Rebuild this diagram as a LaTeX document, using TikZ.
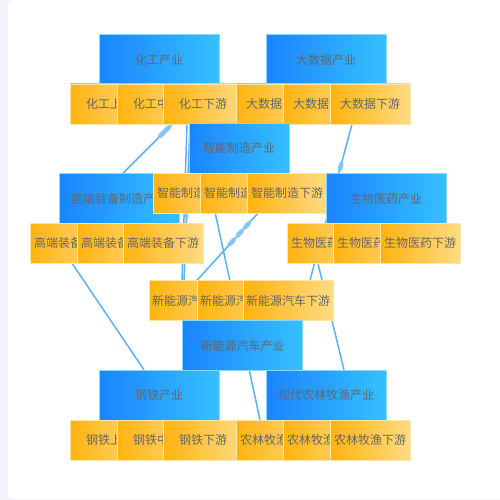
\documentclass[tikz,border=0pt]{standalone}
\usepackage{fontspec}
\newfontfamily\cjk{Noto Sans CJK SC}
\usetikzlibrary{shapes.geometric}
\definecolor{bluel}{HTML}{1A84FF}
\definecolor{bluer}{HTML}{36C0FF}
\definecolor{orgl}{HTML}{FFB30F}
\definecolor{orgr}{HTML}{FFDB82}
\definecolor{textgray}{HTML}{666666}
\definecolor{edgeblue}{HTML}{5AB4EC}
\definecolor{panelgray}{HTML}{F2F3F8}
\pgfdeclarelayer{panel}
\pgfdeclarelayer{edges}
\pgfsetlayers{panel,edges,main}

\begin{document}
\begin{tikzpicture}[x=1pt, y=-1pt,
  font=\cjk\fontsize{12}{14}\selectfont,
  sector/.style={rectangle, inner sep=0pt, minimum width=120pt, minimum height=50pt,
    left color=bluel, right color=bluer, draw=bluer!60!white, line width=0.4pt, text=textgray},
  chain/.style={rectangle, inner ysep=0pt, inner xsep=3pt, minimum width=80pt, minimum height=40pt,
    left color=orgl, right color=orgr, draw=orgr!70!white, line width=0.4pt, text=textgray},
  link/.style={edgeblue, line width=1.5pt},
  bulge/.style={ellipse, fill=edgeblue!75!white, opacity=0.9, inner sep=0pt,
    minimum width=12pt, minimum height=5pt, sloped}]
  \useasboundingbox (0,0) rectangle (500,500);
  \begin{pgfonlayer}{panel}
    \fill[panelgray] (0,0) rectangle (500,500);
    \fill[white] (500,0) [rounded corners=5pt] -- (8,0) -- (8,499) [sharp corners] -- (500,499) -- cycle;
  \end{pgfonlayer}

  \node[sector] (hg) at (159,59.5) {化工产业};
  \node[chain] (hg1) at (110,104) {化工上游};
  \node[chain] (hg2) at (157,104) {化工中游};
  \node[chain] (hg3) at (203,104) {化工下游};

  \node[sector] (dsj) at (326,59.5) {大数据产业};
  \node[chain] (dsj1) at (276,104) {大数据上游};
  \node[chain] (dsj2) at (323,104) {大数据中游};
  \node[chain] (dsj3) at (370,104) {大数据下游};

  \node[sector] (gd) at (119,198.5) {高端装备制造产业};
  \node[chain] (gd1) at (70,243) {高端装备上游};
  \node[chain] (gd2) at (117,243) {高端装备中游};
  \node[chain] (gd3) at (163,243) {高端装备下游};

  \node[sector, minimum width=100pt] (zn) at (239,148) {智能制造产业};
  \node[chain] (zn1) at (193,193) {智能制造上游};
  \node[chain] (zn2) at (240,193) {智能制造中游};
  \node[chain] (zn3) at (287,193) {智能制造下游};

  \node[sector] (sw) at (386,198.5) {生物医药产业};
  \node[chain] (sw1) at (327,243) {生物医药上游};
  \node[chain] (sw2) at (373,243) {生物医药中游};
  \node[chain] (sw3) at (420,243) {生物医药下游};

  \node[chain] (xny1) at (194,300.5) {新能源汽车上游};
  \node[chain] (xny2) at (242,300.5) {新能源汽车中游};
  \node[chain] (xny3) at (288,300.5) {新能源汽车下游};
  \node[sector] (xny) at (242.5,345.5) {新能源汽车产业};

  \node[sector] (gt) at (159,395) {钢铁产业};
  \node[chain] (gt1) at (110,440) {钢铁上游};
  \node[chain] (gt2) at (157,440) {钢铁中游};
  \node[chain] (gt3) at (203,440) {钢铁下游};

  \node[sector] (ny) at (326,395) {现代农林牧渔产业};
  \node[chain] (ny1) at (276,440) {农林牧渔上游};
  \node[chain] (ny2) at (323,440) {农林牧渔中游};
  \node[chain] (ny3) at (370,440) {农林牧渔下游};

  \begin{pgfonlayer}{edges}
    \draw[link] ([xshift=4pt]gd.north) -- ([xshift=-31pt]hg3.south)
      node[bulge, pos=0.8] {} node[bulge, pos=0.9] {};
    \draw[link] ([xshift=-16pt]hg3.south) -- ([xshift=-12pt]xny1.north);
    \draw[link] ([xshift=-13pt]hg3.south) -- ([xshift=-10pt]xny1.north)
      node[bulge, pos=0.59, minimum width=9pt, minimum height=4pt] {};
    \draw[link] ([xshift=-7pt]hg3.south) -- ([xshift=-16pt]ny1.north);
    \draw[link] ([xshift=-18pt]dsj3.south) -- ([xshift=22pt]xny3.north)
      node[bulge, pos=0.27] {};
    \draw[link] ([xshift=-19pt]sw1.north) -- ([xshift=18pt]ny.north);
    \draw[link] ([xshift=2pt]gd1.south) -- ([xshift=-15pt]gt.north);
    \draw[link] ([xshift=-29pt]zn3.south) -- ([xshift=3pt]xny1.north)
      node[bulge, pos=0.18] {} node[bulge, pos=0.3] {} node[bulge, pos=0.43] {};
  \end{pgfonlayer}
\end{tikzpicture}
\end{document}
